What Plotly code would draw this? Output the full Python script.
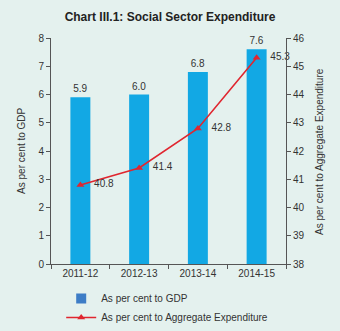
import plotly.graph_objects as go

years = ["2011-12", "2012-13", "2013-14", "2014-15"]
gdp_share = [5.9, 6.0, 6.8, 7.6]
agg_exp_share = [40.8, 41.4, 42.8, 45.3]
left_ticks = [0, 1, 2, 3, 4, 5, 6, 7, 8]
right_ticks = [38, 39, 40, 41, 42, 43, 44, 45, 46]

BG = "#e4f1ee"
BAR = "#12a8e4"
RED = "#e0262f"
TXT = "#333333"
FONT = "Liberation Sans"

fig = go.Figure()
fig.add_trace(go.Bar(
    x=years, y=gdp_share, marker=dict(color=BAR, line=dict(width=0)),
    width=0.34, text=[f"{v:.1f}" for v in gdp_share], textposition="outside",
    textfont=dict(size=10, color=TXT, family=FONT), cliponaxis=False,
    showlegend=False, name="As per cent to GDP", yaxis="y"))
# legend entry for bars (square marker)
fig.add_trace(go.Scatter(
    x=[years[0]], y=[None], mode="markers", name="As per cent to GDP",
    marker=dict(symbol="square", size=10, color="#3d7dc6"), yaxis="y"))
fig.add_trace(go.Scatter(
    x=years, y=agg_exp_share, mode="lines+markers+text",
    name="As per cent to Aggregate Expenditure",
    line=dict(color=RED, width=1.6),
    marker=dict(symbol="triangle-up", size=7, color=RED),
    text=[f"   {v:.1f}" for v in agg_exp_share], textposition="middle right",
    textfont=dict(size=10, color=TXT, family=FONT), cliponaxis=False,
    yaxis="y2"))

axis_common = dict(showline=True, linecolor="#555555", linewidth=1,
                   ticks="outside", ticklen=4, tickcolor="#555555",
                   showgrid=False, zeroline=False,
                   tickfont=dict(size=10, color=TXT, family=FONT))

fig.update_layout(
    width=340, height=331,
    paper_bgcolor=BG, plot_bgcolor=BG,
    margin=dict(l=51, r=54, t=38, b=67, autoexpand=False),
    title=dict(text="<b>Chart III.1: Social Sector Expenditure</b>",
               x=0.5, xanchor="center", y=0.95, yanchor="middle",
               font=dict(size=12, color="#222222", family=FONT)),
    xaxis=dict(type="category", categoryorder="array", categoryarray=years,
               showline=True, linecolor="#555555", linewidth=1,
               ticks="outside", ticklen=4, tickcolor="#555555",
               tickson="boundaries", showgrid=False,
               tickfont=dict(size=10, color=TXT, family=FONT)),
    yaxis=dict(range=[0, 8], tickvals=left_ticks, **axis_common),
    yaxis2=dict(range=[38, 46], tickvals=right_ticks, overlaying="y", side="right",
                **axis_common),
    legend=dict(xref="container", yref="container", x=0.18, y=0.142,
                xanchor="left", yanchor="top",
                bgcolor="rgba(0,0,0,0)", tracegroupgap=0,
                font=dict(size=10, color=TXT, family=FONT), itemwidth=30),
    bargap=0.66,
    annotations=[
        dict(text="As per cent to GDP", xref="paper", yref="paper",
             x=-0.128, y=0.5, textangle=-90, showarrow=False,
             xanchor="center", yanchor="middle",
             font=dict(size=10, color=TXT, family=FONT)),
        dict(text="As per cent to Aggregate Expenditure", xref="paper", yref="paper",
             x=1.14, y=0.5, textangle=-90, showarrow=False,
             xanchor="center", yanchor="middle",
             font=dict(size=10, color=TXT, family=FONT)),
    ],
)

fig.write_html("out.html")
